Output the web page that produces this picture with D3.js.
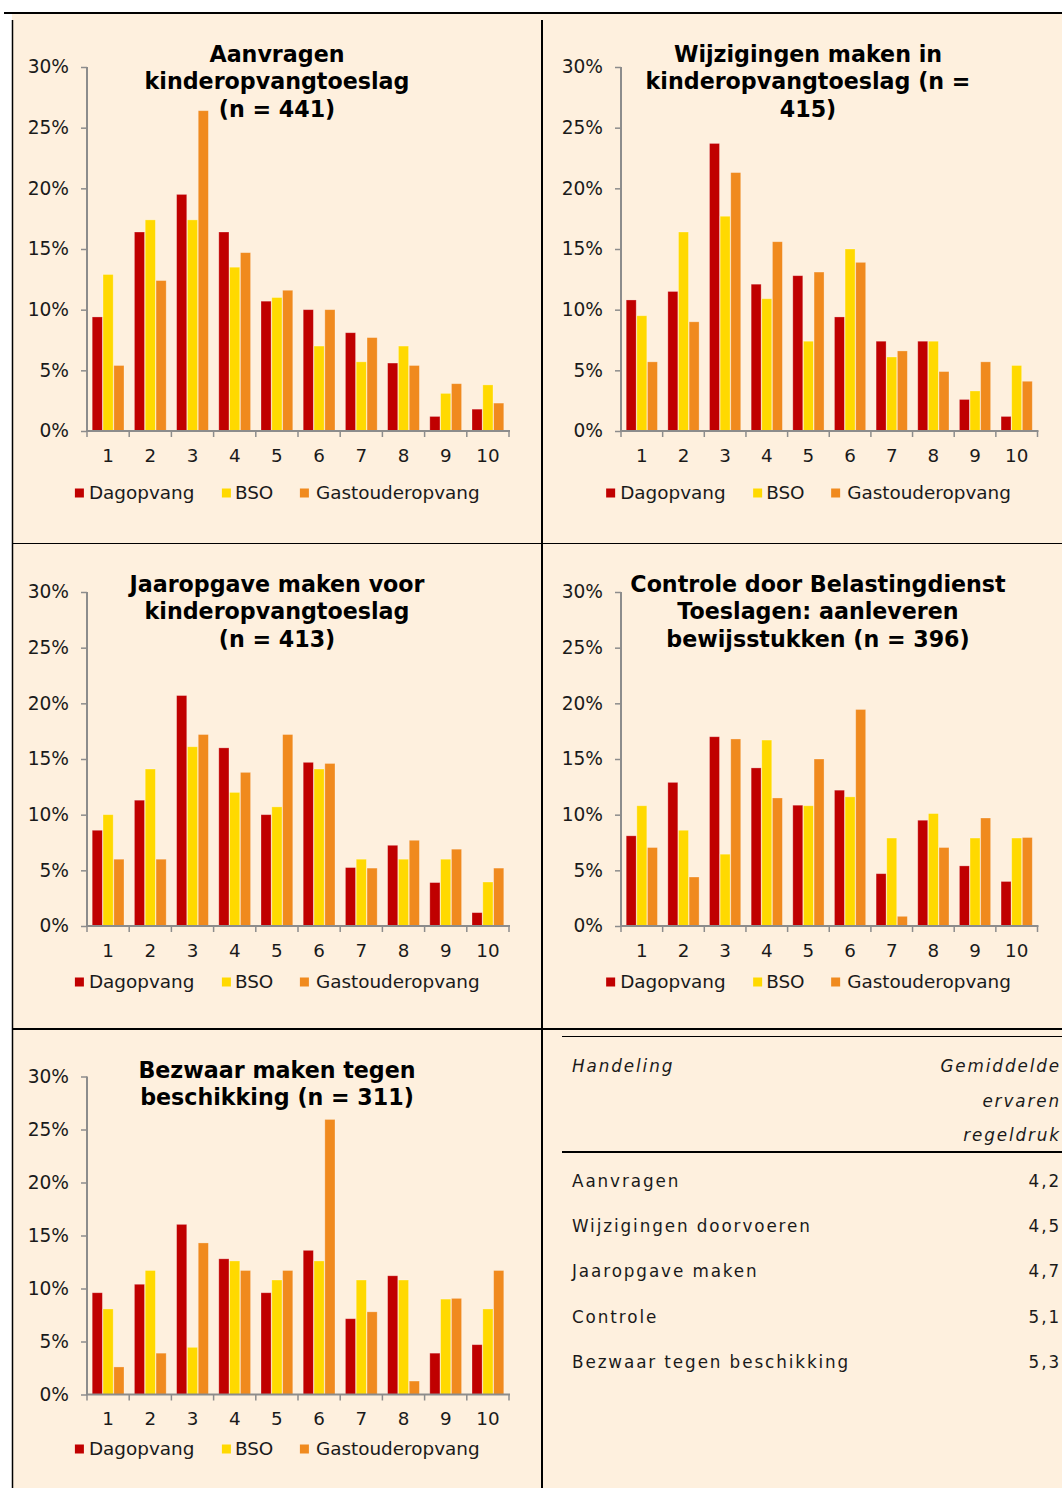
<!DOCTYPE html>
<html>
<head>
<meta charset="utf-8">
<script src="https://cdn.jsdelivr.net/npm/d3@7/dist/d3.min.js"></script>
<style>
  html, body { margin: 0; padding: 0; background: #ffffff; }
  svg { display: block; }
  text { font-family: "DejaVu Sans", Verdana, sans-serif; }
</style>
</head>
<body>
<svg id="chart" width="1062" height="1488"></svg>
<script>
// ---------- DATA ----------
const categories = ["1","2","3","4","5","6","7","8","9","10"];
const seriesNames = ["Dagopvang","BSO","Gastouderopvang"];
const seriesColors = ["#C00000","#FFD900","#F08A1E"];
const yTicks = [0,5,10,15,20,25,30];

const aanvragenDag  = [9.4, 16.4, 19.5, 16.4, 10.7, 10.0, 8.1, 5.6, 1.2, 1.8];
const aanvragenBSO  = [12.9, 17.4, 17.4, 13.5, 11.0, 7.0, 5.7, 7.0, 3.1, 3.8];
const aanvragenGast = [5.4, 12.4, 26.4, 14.7, 11.6, 10.0, 7.7, 5.4, 3.9, 2.3];

const wijzigDag  = [10.8, 11.5, 23.7, 12.1, 12.8, 9.4, 7.4, 7.4, 2.6, 1.2];
const wijzigBSO  = [9.5, 16.4, 17.7, 10.9, 7.4, 15.0, 6.1, 7.4, 3.3, 5.4];
const wijzigGast = [5.7, 9.0, 21.3, 15.6, 13.1, 13.9, 6.6, 4.9, 5.7, 4.1];

const jaarDag  = [8.6, 11.3, 20.7, 16.0, 10.0, 14.7, 5.25, 7.25, 3.9, 1.2];
const jaarBSO  = [10.0, 14.1, 16.1, 12.0, 10.7, 14.1, 6.0, 6.0, 6.0, 3.95];
const jaarGast = [6.0, 6.0, 17.2, 13.8, 17.2, 14.6, 5.2, 7.7, 6.9, 5.2];

const controleDag  = [8.1, 12.9, 17.0, 14.2, 10.85, 12.2, 4.7, 9.5, 5.4, 4.0];
const controleBSO  = [10.8, 8.6, 6.45, 16.7, 10.8, 11.6, 7.9, 10.1, 7.9, 7.9];
const controleGast = [7.05, 4.4, 16.8, 11.5, 15.0, 19.45, 0.87, 7.05, 9.7, 7.95];

const bezwaarDag  = [9.6, 10.4, 16.05, 12.8, 9.6, 13.6, 7.15, 11.2, 3.9, 4.7];
const bezwaarBSO  = [8.07, 11.7, 4.45, 12.6, 10.8, 12.6, 10.8, 10.8, 9.0, 8.07];
const bezwaarGast = [2.6, 3.9, 14.3, 11.7, 11.7, 25.95, 7.8, 1.27, 9.07, 11.7];

const titleAanvragen = ["Aanvragen", "kinderopvangtoeslag", "(n = 441)"];
const titleWijzig    = ["Wijzigingen maken in", "kinderopvangtoeslag (n =", "415)"];
const titleJaar      = ["Jaaropgave maken voor", "kinderopvangtoeslag", "(n = 413)"];
const titleControle  = ["Controle door Belastingdienst", "Toeslagen: aanleveren", "bewijsstukken (n = 396)"];
const titleBezwaar   = ["Bezwaar maken tegen", "beschikking (n = 311)"];

const tableHeaderLeft  = "Handeling";
const tableHeaderRight = ["Gemiddelde", "ervaren", "regeldruk"];
const tableActions = ["Aanvragen", "Wijzigingen doorvoeren", "Jaaropgave maken", "Controle", "Bezwaar tegen beschikking"];
const tableScores  = ["4,2", "4,5", "4,7", "5,1", "5,3"];

// ---------- LAYOUT ----------
const svg = d3.select("#chart");
const BG = "#FEF0DE";

svg.append("rect").attr("x",0).attr("y",0).attr("width",1062).attr("height",1488).attr("fill","#ffffff");
svg.append("rect").attr("x",12).attr("y",13).attr("width",1050).attr("height",1475).attr("fill",BG);

// frame lines
const frame = svg.append("g").attr("stroke","#000");
frame.append("line").attr("x1",4).attr("x2",1062).attr("y1",13).attr("y2",13).attr("stroke-width",2);
frame.append("line").attr("x1",12.5).attr("x2",12.5).attr("y1",20).attr("y2",1488).attr("stroke-width",1.5);
frame.append("line").attr("x1",542).attr("x2",542).attr("y1",20).attr("y2",1488).attr("stroke-width",2);
frame.append("line").attr("x1",12).attr("x2",1062).attr("y1",543.5).attr("y2",543.5).attr("stroke-width",1.2);
frame.append("line").attr("x1",12).attr("x2",1062).attr("y1",1029).attr("y2",1029).attr("stroke-width",2);

function drawChart(cfg) {
  const g = svg.append("g");
  const x = d3.scaleBand().domain(categories).range([cfg.x0, cfg.x1]).padding(0);
  const step = x.step();
  const xs = d3.scaleBand().domain(seriesNames).range([5.2, step - 5.2]).paddingInner(0.06);
  const y = d3.scaleLinear().domain([0, 30]).range([cfg.yBot, cfg.yTop]);

  // bars
  cfg.series.forEach((vals, si) => {
    g.append("g").selectAll("rect").data(vals).join("rect")
      .attr("x", (d, i) => x(categories[i]) + xs(seriesNames[si]))
      .attr("width", xs.bandwidth())
      .attr("y", d => y(d))
      .attr("height", d => y(0) - y(d))
      .attr("fill", seriesColors[si])
      .attr("stroke", "rgba(255,255,255,0.35)")
      .attr("stroke-width", 0.8);
  });

  // y axis
  const yAxis = d3.axisLeft(y).tickValues(yTicks).tickFormat(d => d + "%").tickSize(6).tickPadding(12);
  const ya = g.append("g").attr("transform", `translate(${cfg.x0},0)`).call(yAxis);
  ya.select(".domain").attr("stroke", "#8C8C8C").attr("stroke-width", 2).attr("d", `M0,${cfg.yTop}V${cfg.yBot}`);
  ya.selectAll(".tick line").attr("stroke", "#8C8C8C").attr("stroke-width", 1.5);
  ya.selectAll(".tick text").attr("fill", "#1a1a1a").style("font-size", "18.6px").attr("font-family", '"DejaVu Sans", Verdana, sans-serif');

  // x axis (labels at centers, ticks at boundaries)
  const xAxis = d3.axisBottom(x).tickSize(0).tickPadding(0);
  const xa = g.append("g").attr("transform", `translate(0,${cfg.yBot})`).call(xAxis);
  xa.select(".domain").attr("stroke", "#8C8C8C").attr("stroke-width", 2).attr("d", `M${cfg.x0 - 1},0H${cfg.x1 + 1}`);
  xa.selectAll(".tick text").attr("fill", "#1a1a1a").style("font-size", "18.3px")
    .attr("font-family", '"DejaVu Sans", Verdana, sans-serif')
    .attr("y", cfg.labelsY - cfg.yBot).attr("dy", "0.35em");
  const bounds = categories.map(c => x(c)).concat([cfg.x1]);
  xa.append("g").selectAll("line").data(bounds).join("line")
    .attr("x1", d => d).attr("x2", d => d).attr("y1", 0).attr("y2", 6)
    .attr("stroke", "#8C8C8C").attr("stroke-width", 1.5);

  // title
  const t = g.append("text").attr("text-anchor", "middle").attr("font-weight", "bold")
    .style("font-size", "22.2px").attr("fill", "#000");
  cfg.title.forEach((line, i) => {
    t.append("tspan").attr("x", cfg.titleX).attr("y", cfg.titleY[i]).attr("dy", "0.36em").text(line);
  });

  // legend
  const lc = (cfg.x0 + cfg.x1) / 2 - 20.6;
  const mk = [-202.5, -55.5, 22.5];
  const tx = [-188.5, -42.5, 38.5];
  const leg = g.append("g");
  seriesNames.forEach((s, si) => {
    leg.append("rect").attr("x", lc + mk[si]).attr("y", cfg.legendY - 4.5).attr("width", 9).attr("height", 9)
      .attr("fill", seriesColors[si]);
    leg.append("text").attr("x", lc + tx[si]).attr("y", cfg.legendY).attr("dy", "0.35em")
      .style("font-size", "18.4px").attr("fill", "#1a1a1a").text(s);
  });
}

drawChart({x0: 87, x1: 509, yTop: 67, yBot: 431, labelsY: 456, legendY: 493, titleX: 277, titleY: [54, 81, 109],
  title: titleAanvragen, series: [aanvragenDag, aanvragenBSO, aanvragenGast]});
drawChart({x0: 621, x1: 1037.5, yTop: 67, yBot: 431, labelsY: 456, legendY: 493, titleX: 808, titleY: [54, 81, 109],
  title: titleWijzig, series: [wijzigDag, wijzigBSO, wijzigGast]});
drawChart({x0: 87, x1: 509, yTop: 592, yBot: 926, labelsY: 951, legendY: 982, titleX: 277, titleY: [584, 611, 639],
  title: titleJaar, series: [jaarDag, jaarBSO, jaarGast]});
drawChart({x0: 621, x1: 1037.5, yTop: 592, yBot: 926, labelsY: 951, legendY: 982, titleX: 818, titleY: [584, 611, 639],
  title: titleControle, series: [controleDag, controleBSO, controleGast]});
drawChart({x0: 87, x1: 509, yTop: 1076.5, yBot: 1394.5, labelsY: 1419, legendY: 1449, titleX: 277, titleY: [1070, 1097],
  title: titleBezwaar, series: [bezwaarDag, bezwaarBSO, bezwaarGast]});

// ---------- TABLE ----------
const tb = svg.append("g");
tb.append("line").attr("x1", 562).attr("x2", 1062).attr("y1", 1036.5).attr("y2", 1036.5).attr("stroke", "#000").attr("stroke-width", 1);
tb.append("line").attr("x1", 562).attr("x2", 1062).attr("y1", 1152).attr("y2", 1152).attr("stroke", "#000").attr("stroke-width", 2);
const tfont = "16.8px";
const tls = "1.9px";
const rightX = 1061;
tb.append("text").attr("x", 572).attr("y", 1066).attr("dy", "0.35em").attr("font-style", "italic")
  .style("font-size", tfont).style("letter-spacing", tls).attr("fill", "#1a1a1a").text(tableHeaderLeft);
const hy = [1066, 1101, 1135];
tableHeaderRight.forEach((s, i) => {
  tb.append("text").attr("x", rightX).attr("y", hy[i]).attr("dy", "0.35em").attr("text-anchor", "end")
    .attr("font-style", "italic").style("font-size", tfont).style("letter-spacing", tls).attr("fill", "#1a1a1a").text(s);
});
const rowY = d3.scalePoint().domain(tableActions).range([1181, 1362]);
tableActions.forEach((a, i) => {
  tb.append("text").attr("x", 572).attr("y", rowY(a)).attr("dy", "0.35em")
    .style("font-size", tfont).style("letter-spacing", tls).attr("fill", "#1a1a1a").text(a);
  tb.append("text").attr("x", rightX).attr("y", rowY(a)).attr("dy", "0.35em").attr("text-anchor", "end")
    .style("font-size", tfont).style("letter-spacing", tls).attr("fill", "#1a1a1a").text(tableScores[i]);
});
</script>
</body>
</html>
